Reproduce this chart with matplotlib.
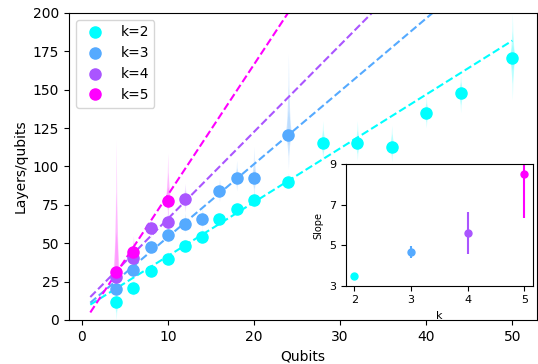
import numpy as np
import matplotlib
matplotlib.use("Agg")
from matplotlib import pyplot as plt

# main data: layers/qubits vs qubits for each k
q2 = np.array([4, 6, 8, 10, 12, 14, 16, 18, 20, 24, 28, 32, 36, 40, 44, 50])
v2 = np.array([12, 21, 32, 40, 48, 54, 66, 72, 78, 90, 115, 115, 113, 135, 148, 171])
lo2 = np.array([0, 15, 28, 36, 44, 50, 62, 68, 73, 85, 104, 104, 103, 125, 135, 143])
hi2 = np.array([20, 27, 36, 45, 53, 60, 70, 77, 84, 96, 130, 130, 127, 146, 160, 200])

q3 = np.array([4, 6, 8, 10, 12, 14, 16, 18, 20, 24])
v3 = np.array([20, 32.6, 47.8, 55.4, 62.5, 65.8, 83.8, 92.3, 92.3, 120.5])
lo3 = np.array([14, 27, 43, 50, 57, 60, 77, 84, 81, 98])
hi3 = np.array([27, 40, 53, 62, 70, 73, 92, 104, 113, 174])

q4 = np.array([4, 6, 8, 10, 12])
v4 = np.array([28.2, 40.6, 59.7, 63.6, 78.8])
lo4 = np.array([20, 34, 53, 56, 70])
hi4 = np.array([36, 48, 66, 72, 89])

q5 = np.array([4, 6, 10])
v5 = np.array([31.5, 44.5, 77.5])
lo5 = np.array([22, 38, 68])
hi5 = np.array([118, 55, 109])

# fitted lines (slope, intercept)
fit_slope = [3.51, 4.75, 5.66, 8.5]
fit_icpt = [6.5, 6.5, 9.3, -3.6]

# inset: slope vs k
ks = np.array([2, 3, 4, 5])
slope = np.array([3.5, 4.67, 5.6, 8.5])
slope_err = np.array([0.05, 0.3, 1.05, 2.15])

cmap = plt.get_cmap("cool")
colors = [cmap(i / 3) for i in range(4)]

fig = plt.figure(figsize=(5.38, 3.64), dpi=100)
ax = fig.add_axes([0.1283, 0.1209, 0.8699, 0.8434])

series = [(q2, v2, lo2, hi2), (q3, v3, lo3, hi3), (q4, v4, lo4, hi4), (q5, v5, lo5, hi5)]
xfit = np.linspace(1, 50, 50)
for i, (q, v, lo, hi) in enumerate(series):
    c = colors[i]
    for x, y, l, h in zip(q, v, lo, hi):
        # spindle: a few nested diamonds, darker near the point
        for frac, w in [(1.0, 0.18), (0.6, 0.3), (0.3, 0.4)]:
            ys = np.array([y - frac * (y - l), y, y + frac * (h - y)])
            ax.fill_betweenx(ys, x - np.array([0, w, 0]), x + np.array([0, w, 0]),
                             color=c, alpha=0.15, lw=0)
    ax.plot(q, v, "o", color=c, ms=8, label="k=%d" % ks[i], zorder=3)
    ax.plot(xfit, fit_slope[i] * xfit + fit_icpt[i], "--", color=c, lw=1.5)

ax.set_ylim(0, 200)
ax.set_xticks([0, 10, 20, 30, 40, 50])
ax.set_yticks(np.arange(0, 201, 25))
ax.set_xlabel("Qubits")
ax.set_ylabel("Layers/qubits")
ax.legend(loc="upper left")

ins = fig.add_axes([0.6426, 0.215, 0.3476, 0.3335])
for i in range(4):
    ins.errorbar(ks[i], slope[i], yerr=slope_err[i], fmt="o", color=colors[i], ms=5)
ins.set_ylim(3, 9)
ins.set_yticks([3, 5, 7, 9])
ins.set_xticks([2, 3, 4, 5])
ins.tick_params(labelsize=8)
ins.set_xlabel("k", fontsize=8)
ins.set_ylabel("Slope", fontsize=7)

plt.savefig("out.png")
